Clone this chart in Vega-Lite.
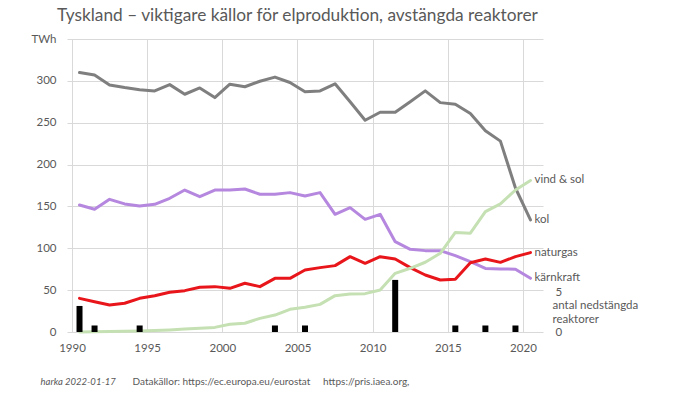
{
  "$schema": "https://vega.github.io/schema/vega-lite/v6.json",
  "width": 476,
  "height": 293,
  "autosize": {"type": "none"},
  "padding": {"left": 67, "top": 39, "right": 157, "bottom": 72},
  "background": "white",
  "title": {
    "text": "Tyskland – viktigare källor för elproduktion, avstängda reaktorer",
    "anchor": "start",
    "frame": "group",
    "dx": -10,
    "dy": 20,
    "offset": 15,
    "baseline": "alphabetic",
    "font": "Lato",
    "fontSize": 17.3,
    "fontWeight": "normal",
    "color": "#595959"
  },
  "config": {
    "view": {"stroke": null},
    "font": "Lato",
    "axis": {"labelFont": "Lato", "titleFont": "Lato", "labelColor": "#595959", "titleColor": "#595959"}
  },
  "datasets": {
    "energy": [
      {"year":1990,"source":"kol","value":310},{"year":1991,"source":"kol","value":307},{"year":1992,"source":"kol","value":295},{"year":1993,"source":"kol","value":292},{"year":1994,"source":"kol","value":289.5},{"year":1995,"source":"kol","value":288},{"year":1996,"source":"kol","value":295.5},{"year":1997,"source":"kol","value":284},{"year":1998,"source":"kol","value":291.5},{"year":1999,"source":"kol","value":280},{"year":2000,"source":"kol","value":296},{"year":2001,"source":"kol","value":293},{"year":2002,"source":"kol","value":299.5},{"year":2003,"source":"kol","value":304.5},{"year":2004,"source":"kol","value":298},{"year":2005,"source":"kol","value":287},{"year":2006,"source":"kol","value":288},{"year":2007,"source":"kol","value":296.5},{"year":2008,"source":"kol","value":275},{"year":2009,"source":"kol","value":253},{"year":2010,"source":"kol","value":262.5},{"year":2011,"source":"kol","value":262.5},{"year":2012,"source":"kol","value":275},{"year":2013,"source":"kol","value":288},{"year":2014,"source":"kol","value":274},{"year":2015,"source":"kol","value":272},{"year":2016,"source":"kol","value":261},{"year":2017,"source":"kol","value":240.5},{"year":2018,"source":"kol","value":228},{"year":2019,"source":"kol","value":172},{"year":2020,"source":"kol","value":134},
      {"year":1990,"source":"kärnkraft","value":151.7},{"year":1991,"source":"kärnkraft","value":146.6},{"year":1992,"source":"kärnkraft","value":158.5},{"year":1993,"source":"kärnkraft","value":153},{"year":1994,"source":"kärnkraft","value":150.5},{"year":1995,"source":"kärnkraft","value":152.5},{"year":1996,"source":"kärnkraft","value":159.7},{"year":1997,"source":"kärnkraft","value":169.6},{"year":1998,"source":"kärnkraft","value":161.7},{"year":1999,"source":"kärnkraft","value":169.6},{"year":2000,"source":"kärnkraft","value":169.6},{"year":2001,"source":"kärnkraft","value":170.8},{"year":2002,"source":"kärnkraft","value":164.5},{"year":2003,"source":"kärnkraft","value":164.5},{"year":2004,"source":"kärnkraft","value":166.5},{"year":2005,"source":"kärnkraft","value":162.5},{"year":2006,"source":"kärnkraft","value":166.5},{"year":2007,"source":"kärnkraft","value":140.6},{"year":2008,"source":"kärnkraft","value":148.5},{"year":2009,"source":"kärnkraft","value":134.6},{"year":2010,"source":"kärnkraft","value":140.6},{"year":2011,"source":"kärnkraft","value":107.9},{"year":2012,"source":"kärnkraft","value":98.8},{"year":2013,"source":"kärnkraft","value":97.2},{"year":2014,"source":"kärnkraft","value":97.2},{"year":2015,"source":"kärnkraft","value":91.2},{"year":2016,"source":"kärnkraft","value":84},{"year":2017,"source":"kärnkraft","value":76},{"year":2018,"source":"kärnkraft","value":75.3},{"year":2019,"source":"kärnkraft","value":75},{"year":2020,"source":"kärnkraft","value":64.1},
      {"year":1990,"source":"naturgas","value":40.2},{"year":1991,"source":"naturgas","value":36.2},{"year":1992,"source":"naturgas","value":32.3},{"year":1993,"source":"naturgas","value":34.3},{"year":1994,"source":"naturgas","value":40.2},{"year":1995,"source":"naturgas","value":43.4},{"year":1996,"source":"naturgas","value":47.4},{"year":1997,"source":"naturgas","value":49.4},{"year":1998,"source":"naturgas","value":53.4},{"year":1999,"source":"naturgas","value":54.2},{"year":2000,"source":"naturgas","value":52.2},{"year":2001,"source":"naturgas","value":58.2},{"year":2002,"source":"naturgas","value":54.2},{"year":2003,"source":"naturgas","value":64.1},{"year":2004,"source":"naturgas","value":64.1},{"year":2005,"source":"naturgas","value":74},{"year":2006,"source":"naturgas","value":76.9},{"year":2007,"source":"naturgas","value":79.3},{"year":2008,"source":"naturgas","value":90},{"year":2009,"source":"naturgas","value":82},{"year":2010,"source":"naturgas","value":90},{"year":2011,"source":"naturgas","value":87.2},{"year":2012,"source":"naturgas","value":76.9},{"year":2013,"source":"naturgas","value":68.1},{"year":2014,"source":"naturgas","value":62.1},{"year":2015,"source":"naturgas","value":63},{"year":2016,"source":"naturgas","value":82.8},{"year":2017,"source":"naturgas","value":87.2},{"year":2018,"source":"naturgas","value":83.2},{"year":2019,"source":"naturgas","value":90},{"year":2020,"source":"naturgas","value":94.8},
      {"year":1990,"source":"vind & sol","value":0.1},{"year":1991,"source":"vind & sol","value":0.3},{"year":1992,"source":"vind & sol","value":0.5},{"year":1993,"source":"vind & sol","value":0.8},{"year":1994,"source":"vind & sol","value":1.2},{"year":1995,"source":"vind & sol","value":1.7},{"year":1996,"source":"vind & sol","value":2.5},{"year":1997,"source":"vind & sol","value":3.5},{"year":1998,"source":"vind & sol","value":4.5},{"year":1999,"source":"vind & sol","value":5.5},{"year":2000,"source":"vind & sol","value":9.2},{"year":2001,"source":"vind & sol","value":10.4},{"year":2002,"source":"vind & sol","value":16.3},{"year":2003,"source":"vind & sol","value":20.2},{"year":2004,"source":"vind & sol","value":27.1},{"year":2005,"source":"vind & sol","value":29.5},{"year":2006,"source":"vind & sol","value":33},{"year":2007,"source":"vind & sol","value":43.4},{"year":2008,"source":"vind & sol","value":45.4},{"year":2009,"source":"vind & sol","value":45.8},{"year":2010,"source":"vind & sol","value":50.2},{"year":2011,"source":"vind & sol","value":70.1},{"year":2012,"source":"vind & sol","value":76.1},{"year":2013,"source":"vind & sol","value":83.3},{"year":2014,"source":"vind & sol","value":94},{"year":2015,"source":"vind & sol","value":119},{"year":2016,"source":"vind & sol","value":118},{"year":2017,"source":"vind & sol","value":143.7},{"year":2018,"source":"vind & sol","value":153},{"year":2019,"source":"vind & sol","value":169.6},{"year":2020,"source":"vind & sol","value":181}
    ],
    "reactors": [
      {"year":1990,"n":4},{"year":1991,"n":1},{"year":1994,"n":1},{"year":2003,"n":1},{"year":2005,"n":1},{"year":2011,"n":8},{"year":2015,"n":1},{"year":2017,"n":1},{"year":2019,"n":1}
    ]
  },
  "layer": [
    {
      "data": {"name": "energy"},
      "transform": [{"calculate": "datum.year + 0.5", "as": "x"}],
      "encoding": {
        "x": {
          "field": "x", "type": "quantitative",
          "scale": {"domain": [1990, 2021], "nice": false, "zero": false},
          "axis": {
            "values": [1990, 1995, 2000, 2005, 2010, 2015, 2020],
            "format": "d",
            "grid": true, "gridColor": "#d9d9d9", "gridWidth": 1,
            "domain": false, "ticks": false,
            "labelFontSize": 11.5, "labelPadding": 10,
            "title": "Datakällor: https://ec.europa.eu/eurostat\u00a0\u00a0\u00a0\u00a0\u00a0https://pris.iaea.org,",
            "titleFontSize": 10, "titleFontWeight": "normal",
            "titleAnchor": "start", "titleAlign": "left", "titleBaseline": "middle",
            "titleX": 65, "titleY": 49
          }
        },
        "y": {
          "field": "value", "type": "quantitative",
          "scale": {"domain": [0, 350], "nice": false},
          "axis": {
            "values": [0, 50, 100, 150, 200, 250, 300, 350],
            "labelExpr": "datum.value == 350 ? 'TWh' : datum.label",
            "grid": true, "gridColor": "#d9d9d9", "gridWidth": 1,
            "domain": false, "ticks": false,
            "labelFontSize": 11.5, "labelPadding": 11,
            "title": "harka 2022-01-17",
            "titleFontSize": 9.5, "titleFontWeight": "normal", "titleFontStyle": "italic",
            "titleAngle": 0, "titleAlign": "left", "titleBaseline": "middle",
            "titleX": -27, "titleY": 342
          }
        },
        "color": {
          "field": "source", "type": "nominal",
          "scale": {"domain": ["vind & sol", "kärnkraft", "naturgas", "kol"], "range": ["#c5e0b3", "#b587de", "#e8161b", "#7f7f7f"]},
          "legend": null
        }
      },
      "layer": [
        {"mark": {"type": "line", "strokeWidth": 3, "strokeJoin": "round", "strokeCap": "round"}},
        {
          "transform": [{"filter": "datum.year == 2020"}],
          "mark": {"type": "text", "align": "left", "baseline": "middle", "dx": 4, "fontSize": 11.5, "color": "#595959"},
          "encoding": {"text": {"field": "source"}, "color": {"value": "#595959"}}
        }
      ]
    },
    {
      "data": {"name": "reactors"},
      "transform": [{"calculate": "datum.year + 0.5", "as": "x"}],
      "mark": {"type": "bar", "color": "black", "size": 6},
      "encoding": {
        "x": {"field": "x", "type": "quantitative"},
        "y": {
          "field": "n", "type": "quantitative",
          "scale": {"domain": [0, 45], "nice": false},
          "axis": {
            "orient": "right",
            "values": [0, 5],
            "grid": false, "domain": false, "ticks": false,
            "labelFontSize": 11.5, "labelPadding": 12,
            "labelOffset": {"condition": {"test": "datum.value == 5", "value": -7}, "value": 0},
            "title": ["antal nedstängda", "reaktorer"],
            "titleFontSize": 11.5, "titleFontWeight": "normal",
            "titleAngle": 0, "titleAlign": "left", "titleBaseline": "alphabetic",
            "titleX": 9, "titleY": 269, "titleLineHeight": 14
          }
        }
      }
    }
  ],
  "resolve": {"scale": {"y": "independent"}, "axis": {"y": "independent"}}
}
